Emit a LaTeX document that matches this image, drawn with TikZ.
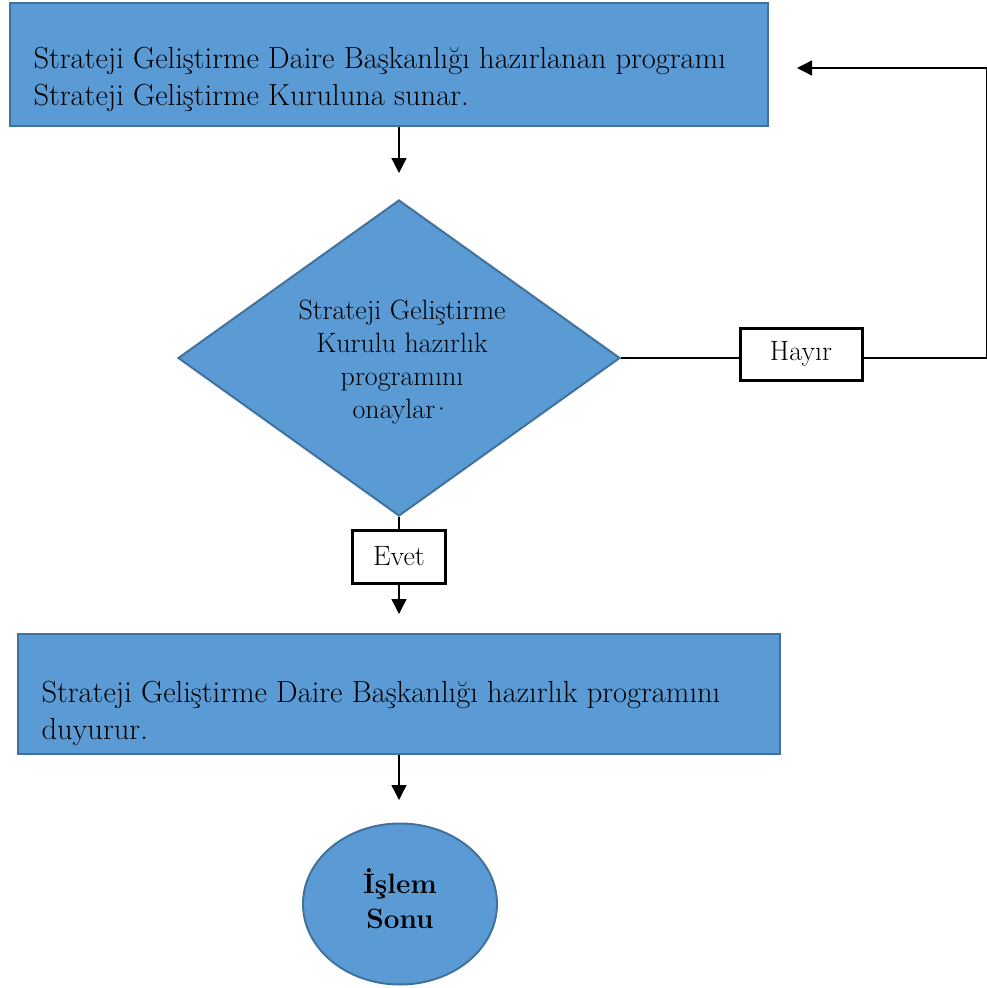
\documentclass[tikz,border=0pt]{standalone}
\usepackage{fontspec}
\usepackage{tikz}
\usetikzlibrary{shapes.geometric,arrows.meta}
\definecolor{boxblue}{HTML}{5B9BD5}
\definecolor{boxedge}{HTML}{41719C}

\begin{document}
\begin{tikzpicture}[x=1pt,y=-1pt,
    font=\fontsize{28}{33}\selectfont,
    bigtext/.style={font=\fontsize{30.5}{37}\selectfont},
    procbox/.style={rectangle,draw=boxedge,fill=boxblue,line width=2pt,inner sep=0pt},
    decbox/.style={diamond,draw=boxedge,fill=boxblue,line width=2pt,inner sep=0pt},
    endbox/.style={ellipse,draw=boxedge,fill=boxblue,line width=2pt,inner sep=0pt},
    tagbox/.style={rectangle,draw=black,fill=white,line width=3pt,inner sep=0pt},
    arr/.style={-{Triangle[width=15pt,length=15pt]},line width=1.4pt},
    link/.style={line width=1.4pt}]
    \useasboundingbox (0,0) rectangle (987,988);
    % ilk adim
    \node[procbox,minimum width=758,minimum height=123] (sunar) at (389,64.5) {};
    \node[bigtext,anchor=west,align=left] (sunartxt) at (30,79)
      {Strateji Geliştirme Daire Başkanlığı hazırlanan programı\\
       Strateji Geliştirme Kuruluna sunar.};
    % karar
    \node[decbox,minimum width=442,minimum height=316] (onay) at (399,358) {};
    \node[align=center] (onaytxt) at (402,362)
      {Strateji Geliştirme\\ Kurulu hazırlık\\ programını\\ onaylar\kern-4pt·};
    \node[tagbox,minimum width=122,minimum height=52] (hayir) at (801,354) {Hayır};
    \node[tagbox,minimum width=93,minimum height=53] (evet) at (399,556.5) {Evet};
    % duyuru
    \node[procbox,minimum width=762,minimum height=120] (duyur) at (399,694) {};
    \node[bigtext,anchor=west,align=left] (duyurtxt) at (38,713)
      {Strateji Geliştirme Daire Başkanlığı hazırlık programını\\
       duyurur.};
    % son
    \node[endbox,minimum width=194,minimum height=161] (son) at (400,904) {};
    \node[align=center,font=\fontsize{28}{35}\selectfont\bfseries] (sontxt) at (400,899)
      {İşlem\\ Sonu};
    \coordinate (k1) at (399,173);
    \coordinate (k2) at (399,614);
    \coordinate (k3) at (399,800);
    \coordinate (geri) at (797,68);
    \draw[arr] (sunar.south -| onay) -- (k1);
    \draw[link] (onay.east) -- (onay.east -| hayir.west);
    \draw[arr] (onay.east -| hayir.east) -- ++(123,0) |- (geri);
    \draw[link] (onay.south) -- (evet.north);
    \draw[arr] (evet.south) -- (k2);
    \draw[arr] (duyur.south) -- (k3);
  \end{tikzpicture}
\end{document}
